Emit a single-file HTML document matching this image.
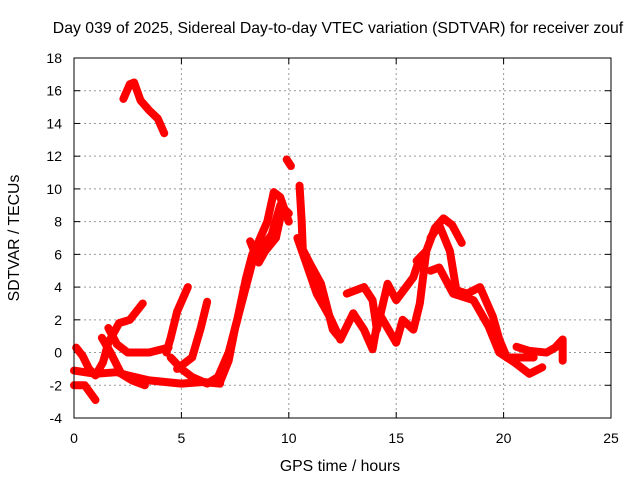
<!DOCTYPE html>
<html><head><meta charset="utf-8"><style>
body{margin:0;background:#fff}
svg text{font-family:"Liberation Sans",sans-serif;font-size:14px;fill:#000}
svg text.big{font-size:15.8px}
</style></head><body>
<svg id="c" width="640" height="480" xmlns="http://www.w3.org/2000/svg">
<text class="big" x="338" y="33" text-anchor="middle">Day 039 of 2025, Sidereal Day-to-day VTEC variation (SDTVAR) for receiver zouf</text>
<text class="big" x="340" y="471" text-anchor="middle">GPS time / hours</text>
<text class="big" x="19" y="238" text-anchor="middle" transform="rotate(-90 19 238)">SDTVAR / TECUs</text>
<g id="grid"></g><g id="ticks"></g><g id="marks"></g>
<rect x="74" y="58" width="537" height="360" fill="none" stroke="#000" stroke-width="1"/>
</svg>
<script>
const xTicks=[0,5,10,15,20,25];
const yTicks=[-4,-2,0,2,4,6,8,10,12,14,16,18];
const trackTop=[[2.3,15.5],[2.6,16.4],[2.8,16.5],[3.1,15.4],[3.5,14.8],[3.9,14.3],[4.2,13.4]];
const trackA=[[0.1,0.3],[0.4,-0.2],[0.7,-1.0],[1.0,-1.4],[1.35,-0.6],[1.6,0.6],[2.1,1.8],[2.6,2.0],[3.2,3.0]];
const trackB=[[0,-1.1],[1,-1.3],[2,-1.2],[2.5,-1.4],[3.5,-1.7],[5,-1.9],[6,-1.8],[6.8,-1.9]];
const trackC=[[0,-2.0],[0.5,-2.0],[1.0,-2.9]];
const trackD=[[1.3,0.9],[1.7,0],[2.2,-1.3],[2.7,-1.7],[3.3,-2.0]];
const trackE=[[1.6,1.5],[2.0,0.5],[2.5,0.0],[3.5,0.0],[4.4,0.3]];
const trackF=[[4.3,0],[4.5,0.9],[4.8,2.5],[5.3,4.0]];
const trackG=[[4.8,-1.0],[5.5,-0.3],[5.9,1.5],[6.2,3.1]];
const trackH=[[4.5,-0.3],[5.0,-1.0],[5.5,-1.5],[6.2,-1.9],[6.7,-1.5],[7.2,0],[7.6,2],[8,4.5],[8.3,6],[8.6,6.8],[9,8],[9.3,9.8],[9.6,9.5],[10,8]];
const trackI=[[6.8,-1.8],[7.2,-0.5],[7.5,1.5],[7.9,3.5],[8.3,5.5],[8.8,6.5],[9.2,7.2],[9.6,9],[10,8.5]];
const trackR=[[8.2,6.8],[8.6,5.5],[8.9,6.2],[9.4,7.0],[9.7,8.8]];
const trackSpike=[[9.9,11.8],[10.1,11.4]];
const trackJ=[[10.5,10.2],[10.6,8],[10.65,6.3],[11,5.4],[11.5,4.2],[12.05,1.4],[12.3,1.0]];
const trackK=[[10.4,7.0],[10.8,5.5],[11.3,3.6],[11.9,2.2],[12.4,0.8]];
const trackL=[[12.7,3.6],[13.5,4.0],[13.9,3.2],[14.1,1.4],[14.6,4.2],[15.0,3.2],[15.8,4.6],[16.1,5.8]];
const trackM=[[12.4,0.8],[13.0,2.4],[13.5,1.4],[13.9,0.2],[14.2,2.4],[15.0,0.6],[15.3,2.0],[15.8,1.4],[16.1,3.0],[16.4,6.2]];
const trackN=[[15.95,5.6],[16.4,6.2],[16.8,7.6],[17.2,8.2],[17.6,7.8],[18.05,6.7]];
const trackO=[[16.6,7.0],[17.0,7.8],[17.5,6.2],[17.8,3.8],[18.3,3.6],[18.9,4.0],[19.5,2.2],[19.8,0.8],[20.15,-0.3],[21.0,-0.3],[21.4,-0.3]];
const trackP=[[16.6,5.0],[17.0,5.2],[17.65,3.6],[18.6,3.2],[19.3,1.6],[19.8,0.0],[20.5,-0.6],[21.2,-1.3],[21.8,-0.9]];
const trackQ=[[20.6,0.35],[21.2,0.1],[22.0,0],[22.4,0.3],[22.75,0.8],[22.75,-0.5]];
const tracks=[trackTop,trackA,trackB,trackC,trackD,trackE,trackF,trackG,trackH,trackI,trackR,trackSpike,trackJ,trackK,trackL,trackM,trackN,trackO,trackP,trackQ];
const X=h=>74+h*537/25, Y=v=>418-(v+4)*360/22;
const NS="http://www.w3.org/2000/svg";
const g=document.getElementById('grid'),t=document.getElementById('ticks'),m=document.getElementById('marks');
function mk(tag,a,p){const e=document.createElementNS(NS,tag);for(const k in a)e.setAttribute(k,a[k]);p.appendChild(e);return e;}
xTicks.forEach(v=>{const x=X(v);
 if(v>0&&v<25){const l=mk('line',{x1:x,x2:x,y1:58,y2:418,stroke:'#999','stroke-dasharray':'2,3'},g);
 
 }
 const tx=mk('text',{x:x,y:443,'text-anchor':'middle'},t);tx.textContent=v;
 
 
 mk('line',{x1:x,x2:x,y1:418,y2:412,stroke:'#000'},t);mk('line',{x1:x,x2:x,y1:58,y2:64,stroke:'#000'},t);});
yTicks.forEach(v=>{const y=Y(v);
 if(v>-4&&v<18){const l=mk('line',{x1:74,x2:611,y1:y,y2:y,stroke:'#999','stroke-dasharray':'2,3'},g);
 
 }
 const tx=mk('text',{x:62,y:y+5,'text-anchor':'end'},t);tx.textContent=v;
 
 
 mk('line',{x1:74,x2:80,y1:y,y2:y,stroke:'#000'},t);mk('line',{x1:611,x2:605,y1:y,y2:y,stroke:'#000'},t);});
tracks.forEach(tr=>{
 const p=mk('polyline',{points:tr.map(d=>X(d[0])+','+Y(d[1])).join(' '),fill:'none',stroke:'#f00','stroke-width':8,'stroke-linejoin':'round','stroke-linecap':'round'},m);
 
 
});
</script>
</body></html>
